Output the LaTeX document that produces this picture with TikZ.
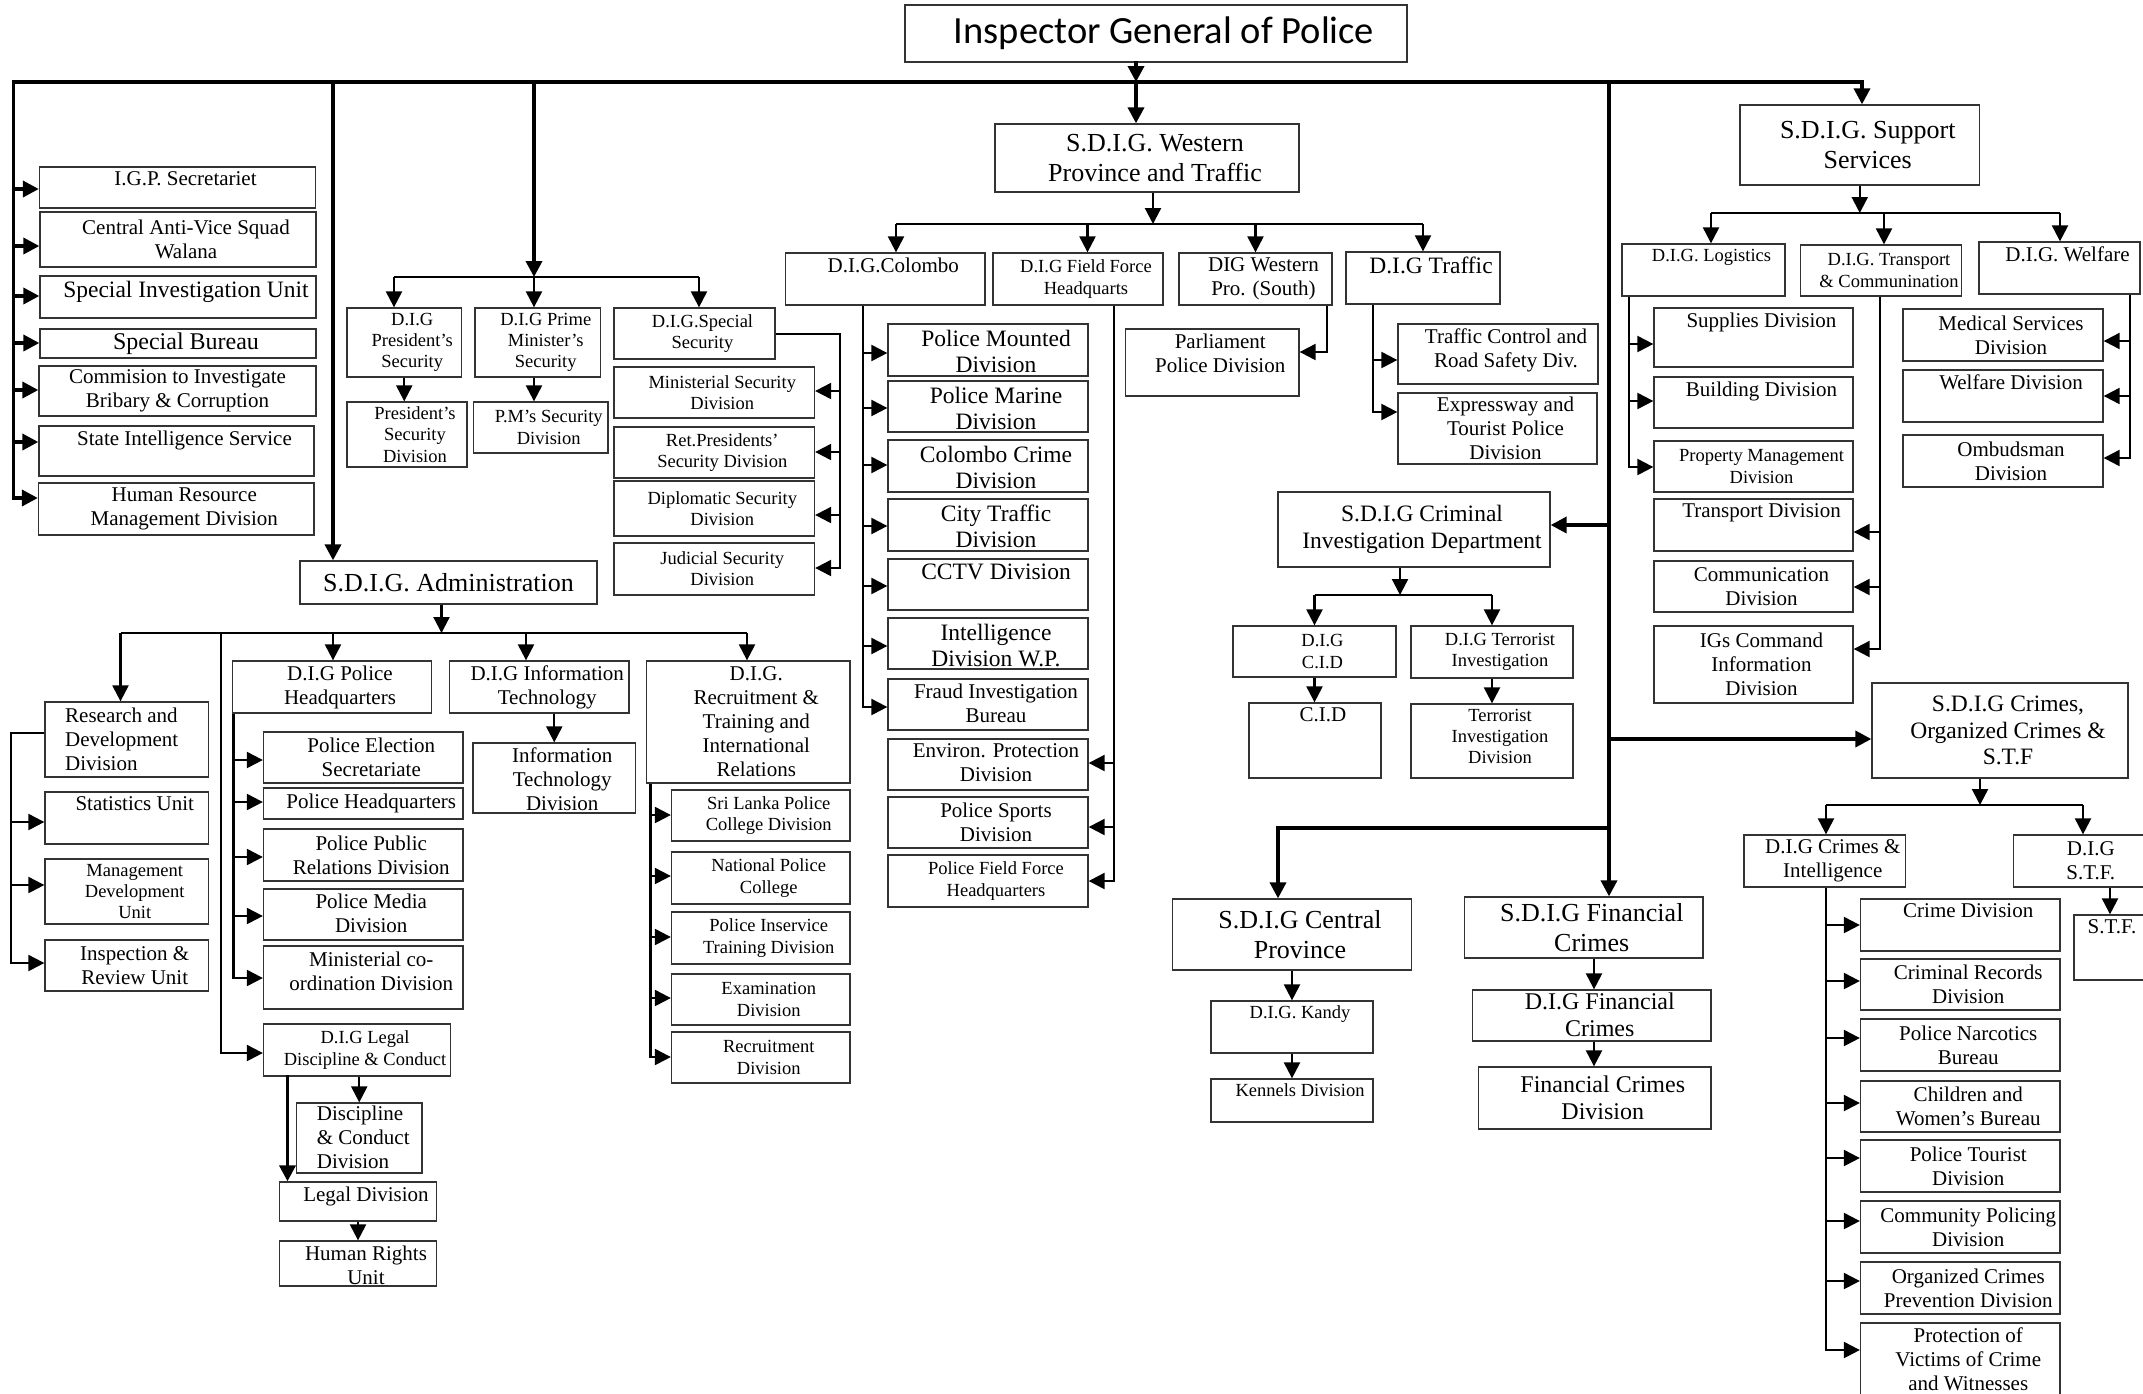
\documentclass[tikz,border=0pt]{standalone}
\usepackage{fontspec}
\setmainfont{Liberation Serif}
\newfontfamily\ttlfont{Carlito}
\usetikzlibrary{arrows.meta}
\tikzset{
 obox/.style={draw=black!80, line width=1.3pt, rectangle, inner sep=0pt},
 txt/.style={inner sep=0pt, align=center, xshift=8pt, text=black},
 tk/.style={line width=3.6pt, line cap=rect},
 tn/.style={line width=2.2pt},
 ar/.style={-{Triangle[length=16pt,width=16pt]}},
 fA/.style={font=\fontsize{18.5}{21.3}\selectfont},
 fB/.style={font=\fontsize{21}{24}\selectfont},
 fC/.style={font=\fontsize{23.5}{26.5}\selectfont},
 fD/.style={font=\fontsize{26}{30}\selectfont},
 fE/.style={font=\fontsize{23.5}{26}\selectfont},
 fF/.style={font=\fontsize{24}{27}\selectfont},
 fT/.style={font=\ttlfont\fontsize{38.5}{44}\selectfont},
}
% centered text box: [text opts]{name}{x1}{y1}{x2}{y2}{font style}{text}
\newcommand{\obx}[8][]{%
 \node[obox, minimum width={#5-#3}, minimum height={#6-#4}] (#2) at ({(#3+#5)/2},{(#4+#6)/2}) {};
 \node[txt, #7, #1] (#2t) at (#2) {#8};}
% top-aligned text box
\newcommand{\obxt}[8][]{%
 \node[obox, minimum width={#5-#3}, minimum height={#6-#4}] (#2) at ({(#3+#5)/2},{(#4+#6)/2}) {};
 \node[txt, #7, anchor=north, #1] (#2t) at ([yshift=-5.5pt]#2.north) {#8};}
\begin{document}
\begin{tikzpicture}[x=1pt,y=-1pt]
\useasboundingbox (0,0) rectangle (2143,1393);
\clip (0,0) rectangle (2143,1393);
\fill[white] (0,0) rectangle (2143,1393);

% ---------- title ----------
\obx{igp0}{905}{5}{1407}{62}{fT}{Inspector General of Police}

% ---------- left column ----------
\obxt{igp}{39.5}{167}{315.5}{208}{fB}{I.G.P. Secretariet}
\obx{cav}{40}{212}{316}{267}{fB}{Central Anti-Vice Squad\\Walana}
\obxt{siu}{40}{276}{316}{318}{fC}{Special Investigation Unit}
\obx{sb}{40}{329}{316}{358}{fF}{Special Bureau}
\obx[xshift=-8pt]{cib}{39}{366}{316}{416}{fB}{Commision to Investigate\\Bribary \& Corruption}
\obxt{sis}{39}{426}{314}{476}{fB}{State Intelligence Service}
\obx{hrm}{38.5}{483}{314}{535}{fB}{Human Resource\\Management Division}

% ---------- security block ----------
\obx{dpres}{347}{308}{461.5}{377}{fA}{D.I.G\\President’s\\Security}
\obx{presd}{347}{402}{467}{467}{fA}{President’s\\Security\\Division}
\obx{dpm}{475}{308}{600.5}{377}{fA}{D.I.G Prime\\Minister’s\\Security}
\obx{pmd}{473.5}{402}{608}{453}{fA}{P.M’s Security\\Division}
\obx{dss}{614}{308}{775}{359}{fA}{D.I.G.Special\\Security}
\obx{msd}{614}{367}{814.5}{418}{fA}{Ministerial Security\\Division}
\obx{rpsd}{614}{427}{814.5}{478}{fA}{Ret.Presidents’\\Security Division}
\obx{dsd}{614}{481}{814.5}{536}{fA}{Diplomatic Security\\Division}
\obx{jsd}{614}{543}{814.5}{595}{fA}{Judicial Security\\Division}

% ---------- western province ----------
\obx{sw}{995}{124}{1299}{192}{fD}{S.D.I.G. Western\\Province and Traffic}
\obxt{dcol}{785.5}{253}{985}{305}{fB}{D.I.G.Colombo}
\obx{dff}{993}{253}{1163}{305}{fA}{D.I.G Field Force\\Headquarts}
\obx{dws}{1179}{253}{1332}{305}{fB}{DIG Western\\Pro. (South)}
\obxt{dtr}{1346}{252}{1500}{304}{fC}{D.I.G Traffic}
\obxt[yshift=-1pt]{pmtd}{888}{324}{1088}{376}{fE}{Police Mounted\\Division}
\obxt[yshift=-1pt]{pmrd}{888}{381}{1088}{432}{fE}{Police Marine\\Division}
\obxt[yshift=-1pt]{ccd}{888}{440}{1088}{492}{fE}{Colombo Crime\\Division}
\obxt[yshift=-1pt]{ctd}{888}{499}{1088}{551}{fE}{City Traffic\\Division}
\obxt{cctv}{888}{559}{1088}{610}{fE}{CCTV Division}
\obxt[yshift=-1pt]{intd}{888}{618}{1088}{669}{fE}{Intelligence\\Division W.P.}
\obxt{fib}{888}{679}{1088}{730}{fB}{Fraud Investigation\\Bureau}
\obxt{epd}{888}{739}{1088}{790}{fB}{Environ. Protection\\Division}
\obx{psd}{888}{797}{1088}{848}{fB}{Police Sports\\Division}
\obx{pffh}{888}{855}{1088}{907}{fA}{Police Field Force\\Headquarters}
\obxt{ppd}{1125.5}{329}{1299}{396}{fB}{Parliament\\Police Division}
\obxt{tcr}{1398}{324}{1598}{384}{fB}{Traffic Control and\\Road Safety Div.}
\obx{etp}{1398}{393}{1597}{464}{fB}{Expressway and\\Tourist Police\\Division}

% ---------- support services ----------
\obx{sup}{1740}{105}{1979.5}{185}{fD}{S.D.I.G. Support\\Services}
\obxt{dlog}{1622}{244}{1785}{296}{fA}{D.I.G. Logistics}
\obx{dtc}{1800.5}{245}{1961.5}{296}{fA}{D.I.G. Transport\\\& Communination}
\obxt{dwel}{1979}{242}{2140}{294}{fB}{D.I.G. Welfare}
\obxt{supd}{1654}{308}{1853}{367}{fB}{Supplies Division}
\obxt{bld}{1654}{377}{1853}{428}{fB}{Building Division}
\obx{pmgd}{1654}{441}{1853}{492}{fA}{Property Management\\Division}
\obxt{trd}{1654}{499}{1853}{551}{fB}{Transport Division}
\obx{cmd}{1654}{561}{1853}{612}{fB}{Communication\\Division}
\obx{igc}{1654}{626}{1853}{703}{fB}{IGs Command\\Information\\Division}
\obx{msvd}{1903}{309}{2103}{361}{fB}{Medical Services\\Division}
\obxt{wfd}{1903}{370}{2103}{422}{fB}{Welfare Division}
\obx{omb}{1903}{435}{2103}{487}{fB}{Ombudsman\\Division}

% ---------- CID ----------
\obx{scid}{1278}{492}{1550}{567}{fC}{S.D.I.G Criminal\\Investigation Department}
\obx{dcid}{1233}{626}{1396}{677}{fA}{D.I.G\\C.I.D}
\obx{dter}{1411}{626}{1573}{678}{fA}{D.I.G Terrorist\\Investigation}
\obxt{cidd}{1249}{703}{1381}{778}{fB}{C.I.D}
\obxt{terd}{1411}{704}{1573}{778}{fA}{Terrorist\\Investigation\\Division}

% ---------- central / financial ----------
\obx{scen}{1172.5}{899}{1411.5}{970}{fD}{S.D.I.G Central\\Province}
\obxt{dkan}{1211}{1001}{1373}{1053}{fA}{D.I.G. Kandy}
\obxt{ken}{1211}{1079}{1373}{1122}{fA}{Kennels Division}
\obx{sfin}{1464.5}{897}{1703}{958}{fD}{S.D.I.G Financial\\Crimes}
\obxt[yshift=2pt]{dfin}{1472.5}{990}{1711}{1041}{fF}{D.I.G Financial\\Crimes}
\obx{fcd}{1478.5}{1067}{1711}{1129}{fF}{Financial Crimes\\Division}

% ---------- crimes / STF ----------
\obx{ocs}{1872}{683}{2128}{778}{fC}{S.D.I.G Crimes,\\Organized Crimes \&\\S.T.F}
\obx{dci}{1744}{835}{1905.5}{887}{fB}{D.I.G Crimes \&\\Intelligence}
\obx[xshift=-9pt]{dstf}{2013.5}{835}{2170}{887}{fB}{D.I.G\\S.T.F.}
\obxt[xshift=-8pt]{stf}{2074}{915}{2150}{980}{fB}{S.T.F.}
\obxt{crd}{1860.5}{899}{2060}{951}{fB}{Crime Division}
\obx{crrd}{1860.5}{959}{2060}{1010}{fB}{Criminal Records\\Division}
\obx{pnb}{1860.5}{1019}{2060}{1071}{fB}{Police Narcotics\\Bureau}
\obx{cwb}{1860.5}{1081}{2060}{1132}{fB}{Children and\\Women’s Bureau}
\obx{ptd}{1860.5}{1140}{2060}{1192}{fB}{Police Tourist\\Division}
\obx{cpd}{1860.5}{1201}{2060}{1253}{fB}{Community Policing\\Division}
\obx{ocpd}{1860.5}{1262}{2060}{1314}{fB}{Organized Crimes\\Prevention Division}
\obxt{pvc}{1860.5}{1323}{2060}{1400}{fB}{Protection of\\Victims of Crime\\and Witnesses}

% ---------- administration ----------
\obx[xshift=-8pt]{adm}{300}{561}{597}{604}{fD}{S.D.I.G. Administration}
\obx[align=left, xshift=-13pt]{rdd}{45}{702}{208.5}{777}{fB}{Research and\\Development\\Division}
\obxt{stu}{45}{792}{208.5}{844}{fB}{Statistics Unit}
\obx{mdu}{45}{859}{208.5}{924}{fA}{Management\\Development\\Unit}
\obx{iru}{45}{940}{208.5}{991}{fB}{Inspection \&\\Review Unit}
\obx{dph}{232.5}{661}{431.5}{713}{fB}{D.I.G Police\\Headquarters}
\obx{pes}{263.5}{732}{463}{783}{fB}{Police Election\\Secretariate}
\obx{phq}{263.5}{788}{463}{819}{fB}{Police Headquarters}
\obx{ppr}{263.5}{829}{463}{881}{fB}{Police Public\\Relations Division}
\obxt{pmed}{263.5}{889}{463}{940}{fB}{Police Media\\Division}
\obxt[yshift=-1pt]{mco}{263.5}{946}{463}{1009}{fB}{Ministerial co-\\ordination Division}
\obx{dleg}{263.5}{1024}{450.5}{1076}{fA}{D.I.G Legal\\Discipline \& Conduct}
\obxt[align=left, xshift=-4pt, yshift=2pt]{dcd}{296.5}{1103}{422}{1173}{fB}{Discipline\\\& Conduct\\Division}
\obxt{legd}{279.5}{1182}{436.5}{1221}{fB}{Legal Division}
\obxt{hru}{279.5}{1241}{436.5}{1286}{fB}{Human Rights\\Unit}
\obx{dit}{449.5}{661}{629}{713}{fB}{D.I.G Information\\Technology}
\obxt{itd}{473}{743}{635.5}{813}{fB}{Information\\Technology\\Division}
\obx{drt}{646.5}{661}{850}{783}{fB}{D.I.G.\\Recruitment \&\\Training and\\International\\Relations}
\obx{slpc}{671.5}{790}{850}{841}{fA}{Sri Lanka Police\\College Division}
\obx{npc}{671.5}{852}{850}{904}{fA}{National Police\\College}
\obx{pitd}{671.5}{912}{850}{964}{fA}{Police Inservice\\Training Division}
\obx{exd}{671.5}{974}{850}{1025}{fA}{Examination\\Division}
\obx{rcd}{671.5}{1032}{850}{1083}{fA}{Recruitment\\Division}

% ================= connectors =================
\coordinate (bL) at (13.5,82);
\coordinate (bR) at (1862,82);
\coordinate (j1) at (333,82);
\coordinate (j2) at (534,82);
\coordinate (j3) at (1136,82);
\coordinate (j4) at (1609,82);

\draw[tk,ar] (bL) -- (bR) -- (bR |- sup.north);
\draw[tk,ar] (bL) |- (hrm.west |- 0,498);
\foreach \n/\y in {igp/189, cav/246, siu/296, sb/343, cib/390, sis/442}
  \draw[tk,ar] (bL |- 0,\y) -- (\n.west |- 0,\y);

\draw[tk,ar] (igp0.south -| j3) -- (j3);
\draw[tk,ar] (j3) -- (j3 |- sw.north);
\draw[tk,ar] (j1) -- (j1 |- adm.north);

% security
\coordinate (j2b) at (534,277);
\coordinate (h1a) at (394,277);
\coordinate (h1c) at (699,277);
\draw[tk,ar] (j2) -- (j2b);
\draw[tn] (h1a) -- (h1c);
\draw[tn,ar] (h1a) -- (h1a |- dpres.north);
\draw[tn,ar] (j2b) -- (j2b |- dpm.north);
\draw[tn,ar] (h1c) -- (h1c |- dss.north);
\draw[tn,ar] (dpres.south) -- (dpres.south |- presd.north);
\draw[tn,ar] (j2b |- dpm.south) -- (j2b |- pmd.north);
\coordinate (ssv) at (840,334);
\draw[tn,ar] (dss.east |- ssv) -- (ssv) |- (jsd.east |- 0,568);
\foreach \n/\y in {msd/391, rpsd/452, dsd/515}
  \draw[tn,ar] (ssv |- 0,\y) -- (\n.east |- 0,\y);

% western
\coordinate (h2w) at (1153,224);
\coordinate (h2a) at (896,224);
\coordinate (h2b) at (1087.5,224);
\coordinate (h2c) at (1255.5,224);
\coordinate (h2d) at (1423,224);
\draw[tn,ar] (sw.south -| h2w) -- (h2w);
\draw[tn] (h2a) -- (h2d);
\foreach \c/\n in {h2a/dcol, h2b/dff, h2c/dws, h2d/dtr}
  \draw[tn,ar] (\c) -- (\c |- \n.north);
\coordinate (cv) at (863,0);
\draw[tn,ar] (dcol.south -| cv) |- (fib.west |- 0,707);
\foreach \n/\y in {pmtd/353, pmrd/408, ccd/465, ctd/526, cctv/586, intd/646}
  \draw[tn,ar] (cv |- 0,\y) -- (\n.west |- 0,\y);
\coordinate (fv) at (1114,0);
\draw[tn,ar] (dff.south -| fv) |- (pffh.east |- 0,881);
\foreach \n/\y in {epd/763, psd/827}
  \draw[tn,ar] (fv |- 0,\y) -- (\n.east |- 0,\y);
\coordinate (pv) at (1327,352);
\draw[tn,ar] (dws.south -| pv) -- (pv) -- (ppd.east |- pv);
\coordinate (tv) at (1373,0);
\draw[tn,ar] (dtr.south -| tv) |- (etp.west |- 0,412);
\draw[tn,ar] (tv |- 0,360) -- (tcr.west |- 0,360);

% support
\coordinate (h3a) at (1711,213);
\coordinate (h3b) at (1884,213);
\coordinate (h3c) at (2060,213);
\draw[tn,ar] (sup.south) -- (sup.south |- h3a);
\draw[tn] (h3a) -- (h3c);
\foreach \c/\n in {h3a/dlog, h3b/dtc, h3c/dwel}
  \draw[tn,ar] (\c) -- (\c |- \n.north);
\coordinate (lv) at (1629,0);
\draw[tn,ar] (dlog.south -| lv) |- (pmgd.west |- 0,467);
\foreach \n/\y in {supd/344, bld/401}
  \draw[tn,ar] (lv |- 0,\y) -- (\n.west |- 0,\y);
\coordinate (trv) at (1880,0);
\draw[tn,ar] (dtc.south -| trv) |- (igc.east |- 0,649);
\foreach \n/\y in {trd/532, cmd/587}
  \draw[tn,ar] (trv |- 0,\y) -- (\n.east |- 0,\y);
\coordinate (wv) at (2130,0);
\draw[tn,ar] (dwel.south -| wv) |- (omb.east |- 0,458);
\foreach \n/\y in {msvd/341, wfd/396}
  \draw[tn,ar] (wv |- 0,\y) -- (\n.east |- 0,\y);

% right trunk
\draw[tk,ar] (j4) -- (j4 |- sfin.north);
\draw[tk,ar] (j4 |- 0,525) -- (scid.east |- 0,525);
\draw[tk,ar] (j4 |- 0,739) -- (ocs.west |- 0,739);
\coordinate (cx) at (1278,0);
\draw[tk,ar] (j4 |- 0,828) -| (cx |- scen.north);

% CID
\coordinate (ch) at (1400,595);
\draw[tn,ar] (scid.south -| ch) -- (ch);
\draw[tn] (dcid.north |- ch) -- (dter.north |- ch);
\draw[tn,ar] (dcid.north |- ch) -- (dcid.north);
\draw[tn,ar] (dter.north |- ch) -- (dter.north);
\draw[tn,ar] (dcid.south) -- (dcid.south |- cidd.north);
\draw[tn,ar] (dter.south) -- (dter.south |- terd.north);

% central / financial
\draw[tn,ar] (scen.south) -- (scen.south |- dkan.north);
\draw[tn,ar] (dkan.south) -- (dkan.south |- ken.north);
\coordinate (fx) at (1594,0);
\draw[tn,ar] (sfin.south -| fx) -- (fx |- dfin.north);
\draw[tn,ar] (dfin.south -| fx) -- (fx |- fcd.north);

% crimes
\coordinate (oh) at (1980,805);
\coordinate (oha) at (1826,805);
\coordinate (ohb) at (2083,805);
\draw[tn,ar] (ocs.south -| oh) -- (oh);
\draw[tn] (oha) -- (ohb);
\draw[tn,ar] (oha) -- (oha |- dci.north);
\draw[tn,ar] (ohb) -- (ohb |- dstf.north);
\coordinate (sx) at (2110,0);
\draw[tn,ar] (dstf.south -| sx) -- (sx |- stf.north);
\coordinate (civ) at (1826,0);
\draw[tn,ar] (dci.south -| civ) |- (pvc.west |- 0,1350);
\foreach \n/\y in {crd/925, crrd/981, pnb/1038, cwb/1103, ptd/1158, cpd/1221, ocpd/1281}
  \draw[tn,ar] (civ |- 0,\y) -- (\n.west |- 0,\y);

% administration
\coordinate (ah) at (441.5,633);
\coordinate (aha) at (120.5,633);
\coordinate (ahb) at (333,633);
\coordinate (ahc) at (526,633);
\coordinate (ahd) at (747,633);
\coordinate (ahl) at (220.7,633);
\draw[tn,ar] (adm.south -| ah) -- (ah);
\draw[tn] (aha) -- (ahd);
\foreach \c/\n in {aha/rdd, ahb/dph, ahc/dit, ahd/drt}
  \draw[tn,ar] (\c) -- (\c |- \n.north);
\draw[tn,ar] (ahl) |- (dleg.west |- 0,1053);
\coordinate (rv) at (11,0);
\draw[tn,ar] (rdd.west |- 0,733) -- (rv |- 0,733) |- (iru.west |- 0,963);
\foreach \n/\y in {stu/822, mdu/885}
  \draw[tn,ar] (rv |- 0,\y) -- (\n.west |- 0,\y);
\coordinate (dv) at (233.5,0);
\draw[tn,ar] (dph.south -| dv) |- (mco.west |- 0,978);
\foreach \n/\y in {pes/760, phq/802, ppr/857, pmed/916}
  \draw[tn,ar] (dv |- 0,\y) -- (\n.west |- 0,\y);
\draw[tn,ar] (itd.north |- dit.south) -- (itd.north);
\coordinate (rv2) at (650.5,0);
\draw[tn,ar] (drt.south -| rv2) |- (rcd.west |- 0,1057);
\foreach \n/\y in {slpc/815, npc/876, pitd/937, exd/998}
  \draw[tn,ar] (rv2 |- 0,\y) -- (\n.west |- 0,\y);
\draw[tn,ar] (dcd.north |- dleg.south) -- (dcd.north);
\coordinate (lgx) at (287.5,0);
\draw[tk,ar] (dleg.south -| lgx) -- (lgx |- legd.north);
\draw[tn,ar] (legd.south) -- (legd.south |- hru.north);
\end{tikzpicture}
\end{document}
